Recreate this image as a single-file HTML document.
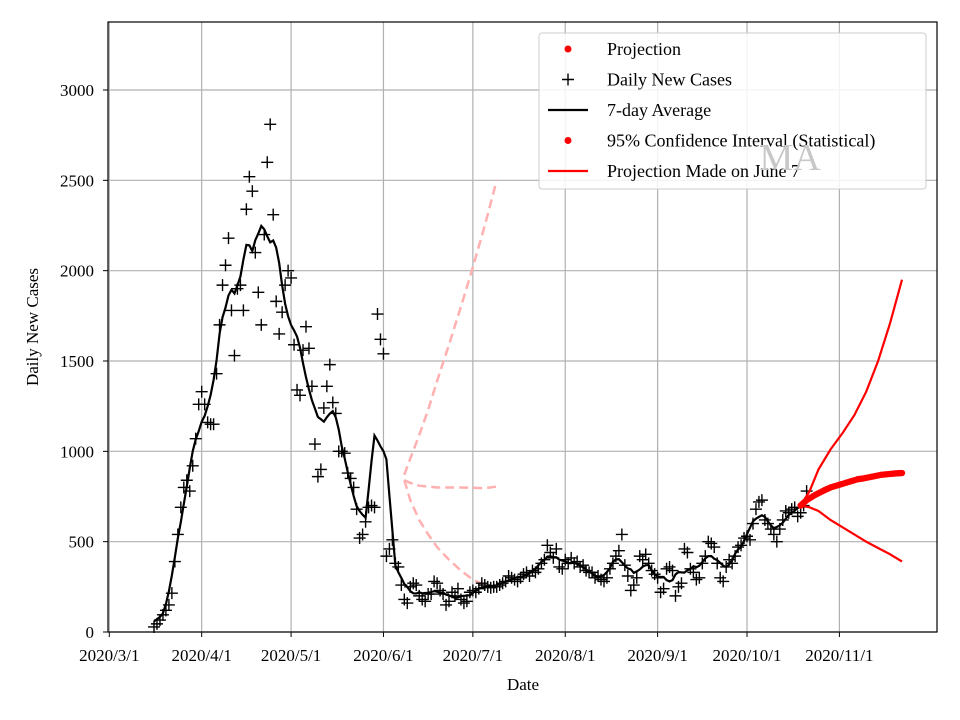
<!DOCTYPE html>
<html><head><meta charset="utf-8">
<style>
html,body{margin:0;padding:0;background:#fff;}
svg{display:block;font-family:"Liberation Serif",serif;}
</style></head>
<body>
<svg id="chart" width="960" height="720" viewBox="0 0 960 720"></svg>
<script>
// ---- data ----
const startDay = 15; // day index from 2020/3/1 (Mar 16)
const dailyCases = [
28,45,66,95,120,150,215,390,540,690,800,840,780,920,1070,1260,
1330,1260,1160,1150,1150,1430,1700,1920,2030,2180,1780,1530,1900,1920,1780,2340,2520,2440,2100,1880,1700,2200,2600,2810,2310,1830,1650,1770,1920,2000,
1960,1590,1340,1310,1560,1690,1570,1360,1040,860,900,1240,1360,1480,1270,1210,1000,1000,990,880,850,800,680,520,540,610,690,700,690,1760,1620,
1540,420,460,510,380,360,260,180,160,250,270,260,200,180,170,210,210,280,270,230,210,150,170,220,200,240,180,160,170,220,
230,220,240,270,260,250,245,250,250,260,270,280,310,300,290,280,300,320,330,310,340,330,350,380,400,480,440,410,460,360,350,
400,380,410,380,390,360,370,340,330,330,300,310,290,280,300,350,380,420,450,540,370,310,230,260,300,420,400,430,380,340,320,
300,220,240,350,360,340,200,250,270,460,440,350,330,290,300,380,420,500,490,470,380,300,280,360,400,380,420,470,480,520,
530,510,600,680,720,730,620,600,570,540,500,570,620,670,660,680,690,640,660,700,780
];
const projDays = [232,234,237,240,242,245,248,251,253,256,259,262,264,266];
const projVals = [700,730,760,785,800,815,830,845,850,860,870,875,878,880];
const ciDays = [232,235,238,242,246,250,254,258,262,266];
const ciUpper = [700,780,900,1010,1100,1200,1330,1500,1710,1950];
const ciLower = [700,690,670,620,580,540,500,465,430,390];
const junDays = [99,101,104,107,110,114,118,122,126,130];
const junUpper = [870,960,1090,1230,1390,1590,1800,2020,2250,2500];
const junMid = [840,825,810,805,800,800,800,798,796,805];
const junLower = [840,730,620,540,470,400,340,290,260,245];
const yTicks = [0,500,1000,1500,2000,2500,3000];
const xTickLabels = ["2020/3/1","2020/4/1","2020/5/1","2020/6/1","2020/7/1","2020/8/1","2020/9/1","2020/10/1","2020/11/1"];
const xTickDays = [0,31,61,92,122,153,184,214,245];

// ---- axes ----
const L=108,R=937,T=22,B=632;
const X=d=>109.3+d*2.98;
const Y=v=>B-v*(542/3000);
const NS="http://www.w3.org/2000/svg";
const svg=document.getElementById('chart');
function el(tag,attrs,parent){const e=document.createElementNS(NS,tag);for(const k in attrs)e.setAttribute(k,attrs[k]);(parent||svg).appendChild(e);return e;}

const grid=el('g',{});


xTickDays.forEach((d,i)=>{
  el('line',{x1:X(d),x2:X(d),y1:T,y2:B,stroke:'#b0b0b0','stroke-width':1.2},grid);
  el('line',{x1:X(d),x2:X(d),y1:B,y2:B+5,stroke:'#000','stroke-width':1},grid);
  const t=el('text',{x:X(d),y:B+29,'font-size':17,'text-anchor':'middle'});
  
  
  t.textContent=xTickLabels[i];
});
yTicks.forEach(v=>{
  el('line',{x1:L,x2:R,y1:Y(v),y2:Y(v),stroke:'#b0b0b0','stroke-width':1.2},grid);
  el('line',{x1:L-5,x2:L,y1:Y(v),y2:Y(v),stroke:'#000','stroke-width':1},grid);
  const t=el('text',{x:L-14,y:Y(v)+6,'font-size':17,'text-anchor':'end'});
  
  
  t.textContent=v;
});

function pathFrom(xs,ys){return xs.map((d,i)=>(i?'L':'M')+X(d).toFixed(1)+','+Y(ys[i]).toFixed(1)).join('');}

// june projection dashed
[junUpper,junMid,junLower].forEach((arr,k)=>{
  const p=el('path',{d:pathFrom(junDays,arr),fill:'none',stroke:'#ffb0b0','stroke-width':2.5,'stroke-dasharray':'9,5'});
  
  
});

// daily cases
const days=dailyCases.map((v,i)=>startDay+i);
const cg=el('g',{stroke:'#000','stroke-width':1.4});


days.forEach((d,i)=>{
  const x=X(d),y=Y(dailyCases[i]);
  el('path',{d:`M${x-6},${y}H${x+6}M${x},${y-6}V${y+6}`},cg);
});

// 7-day average
const avg=dailyCases.map((v,i)=>{let s=0,n=0;for(let j=i-3;j<=i+3;j++){if(j>=0&&j<dailyCases.length){s+=dailyCases[j];n++;}}return s/n;});
const ap=el('path',{d:pathFrom(days,avg),fill:'none',stroke:'#000','stroke-width':2.2});



// CI lines
[ciUpper,ciLower].forEach(arr=>{
  const p=el('path',{d:pathFrom(ciDays,arr),fill:'none',stroke:'#ff0000','stroke-width':2.2});
  
  
});
// projection dots
const pg=el('g',{fill:'#ff0000'});


for(let i=0;i<projDays.length-1;i++){
  for(let s=0;s<4;s++){
    const f=s/4,d=projDays[i]+(projDays[i+1]-projDays[i])*f,v=projVals[i]+(projVals[i+1]-projVals[i])*f;
    el('circle',{cx:X(d),cy:Y(v),r:3.2},pg);
  }
}
el('circle',{cx:X(projDays[projDays.length-1]),cy:Y(projVals[projVals.length-1]),r:3.2},pg);

// frame
const fr=el('rect',{x:L,y:T,width:R-L,height:B-T,fill:'none',stroke:'#000','stroke-width':1.2});



// axis titles
const xt=el('text',{x:523,y:690,'font-size':17,'text-anchor':'middle'});


xt.textContent='Date';
const yt=el('text',{x:0,y:0,'font-size':17,'text-anchor':'middle',transform:'translate(38,327) rotate(-90)'});


yt.textContent='Daily New Cases';

// legend
const lg=el('g',{});


el('rect',{x:539,y:33,width:387,height:156,rx:3,fill:'#fff','fill-opacity':0.85,stroke:'#ccc','stroke-width':1},lg);
const entries=['Projection','Daily New Cases','7-day Average','95% Confidence Interval (Statistical)','Projection Made on June 7'];
entries.forEach((txt,i)=>{
  const y=49+i*30.5;
  const g=el('g',{},lg);
  
  
  if(i===0||i===3) el('circle',{cx:568,cy:y,r:3.5,fill:'#ff0000'},g);
  if(i===1) el('path',{d:`M${562},${y}H${574}M${568},${y-6}V${y+6}`,stroke:'#000','stroke-width':1.4},g);
  if(i===2) el('line',{x1:548,x2:588,y1:y,y2:y,stroke:'#000','stroke-width':2.2},g);
  if(i===4) el('line',{x1:548,x2:588,y1:y,y2:y,stroke:'#ff0000','stroke-width':2.2},g);
  const t=el('text',{x:607,y:y+6,'font-size':18},g);
  t.textContent=txt;
});
const ma=el('text',{x:790,y:170,'font-size':38,'text-anchor':'middle',fill:'#c8c8c8'});


ma.textContent='MA';
</script>
</body></html>
